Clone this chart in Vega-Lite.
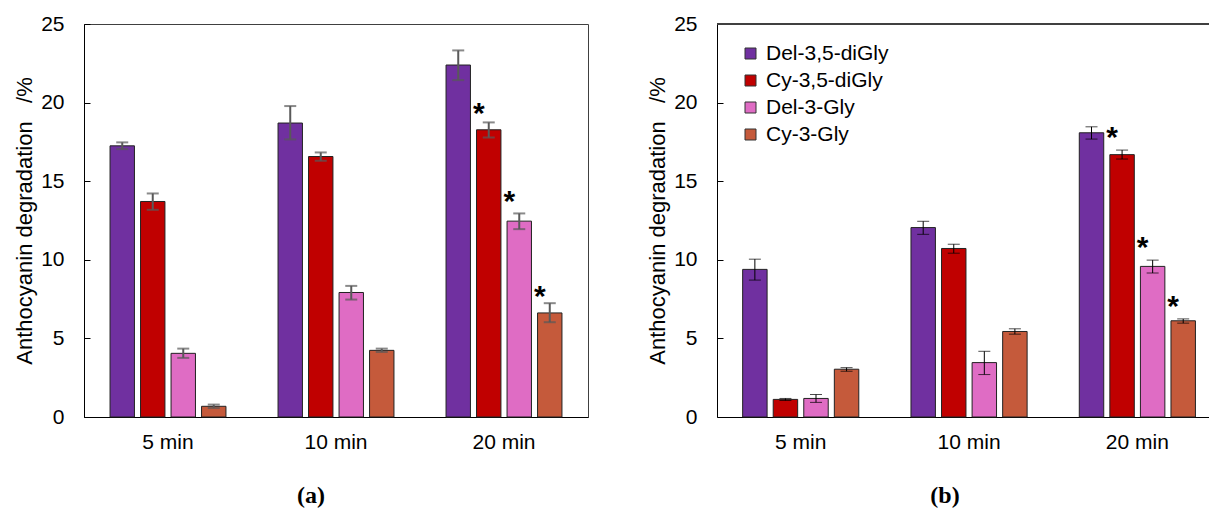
{
  "$schema": "https://vega.github.io/schema/vega-lite/v6.json",
  "padding": {"left": 13, "top": 12, "right": 0, "bottom": 5},
  "background": "white",
  "datasets": {
    "a": [
      {"time": "5 min", "compound": "Del-3,5-diGly", "value": 17.25, "lo": 17.04, "hi": 17.47, "star": null},
      {"time": "5 min", "compound": "Cy-3,5-diGly", "value": 13.71, "lo": 13.18, "hi": 14.22, "star": null},
      {"time": "5 min", "compound": "Del-3-Gly", "value": 4.05, "lo": 3.76, "hi": 4.35, "star": null},
      {"time": "5 min", "compound": "Cy-3-Gly", "value": 0.68, "lo": 0.57, "hi": 0.79, "star": null},
      {"time": "10 min", "compound": "Del-3,5-diGly", "value": 18.7, "lo": 17.66, "hi": 19.78, "star": null},
      {"time": "10 min", "compound": "Cy-3,5-diGly", "value": 16.57, "lo": 16.3, "hi": 16.83, "star": null},
      {"time": "10 min", "compound": "Del-3-Gly", "value": 7.92, "lo": 7.47, "hi": 8.34, "star": null},
      {"time": "10 min", "compound": "Cy-3-Gly", "value": 4.24, "lo": 4.14, "hi": 4.35, "star": null},
      {"time": "20 min", "compound": "Del-3,5-diGly", "value": 22.39, "lo": 21.43, "hi": 23.32, "star": null},
      {"time": "20 min", "compound": "Cy-3,5-diGly", "value": 18.27, "lo": 17.78, "hi": 18.74, "star": 19.53},
      {"time": "20 min", "compound": "Del-3-Gly", "value": 12.46, "lo": 11.95, "hi": 12.95, "star": 13.95},
      {"time": "20 min", "compound": "Cy-3-Gly", "value": 6.62, "lo": 6.03, "hi": 7.24, "star": 7.91}
    ],
    "b": [
      {"time": "5 min", "compound": "Del-3,5-diGly", "value": 9.39, "lo": 8.71, "hi": 10.04, "star": null},
      {"time": "5 min", "compound": "Cy-3,5-diGly", "value": 1.12, "lo": 1.05, "hi": 1.18, "star": null},
      {"time": "5 min", "compound": "Del-3-Gly", "value": 1.18, "lo": 0.93, "hi": 1.43, "star": null},
      {"time": "5 min", "compound": "Cy-3-Gly", "value": 3.04, "lo": 2.91, "hi": 3.14, "star": null},
      {"time": "10 min", "compound": "Del-3,5-diGly", "value": 12.05, "lo": 11.62, "hi": 12.45, "star": null},
      {"time": "10 min", "compound": "Cy-3,5-diGly", "value": 10.72, "lo": 10.42, "hi": 10.99, "star": null},
      {"time": "10 min", "compound": "Del-3-Gly", "value": 3.46, "lo": 2.7, "hi": 4.18, "star": null},
      {"time": "10 min", "compound": "Cy-3-Gly", "value": 5.44, "lo": 5.27, "hi": 5.61, "star": null},
      {"time": "20 min", "compound": "Del-3,5-diGly", "value": 18.08, "lo": 17.68, "hi": 18.46, "star": null},
      {"time": "20 min", "compound": "Cy-3,5-diGly", "value": 16.69, "lo": 16.41, "hi": 16.98, "star": 17.98},
      {"time": "20 min", "compound": "Del-3-Gly", "value": 9.58, "lo": 9.16, "hi": 9.98, "star": 11.0},
      {"time": "20 min", "compound": "Cy-3-Gly", "value": 6.12, "lo": 5.97, "hi": 6.24, "star": 7.28}
    ]
  },
  "hconcat": [
    {
      "width": 504,
      "height": 393,
      "data": {"name": "a"},
      "title": {"text": "(a)", "dx": -25},
      "encoding": {
        "x": {"field": "time", "type": "nominal", "sort": ["5 min", "10 min", "20 min"], "title": null,
              "scale": {"paddingInner": 0.31, "paddingOuter": 0.155}},
        "xOffset": {"field": "compound", "type": "nominal", "sort": ["Del-3,5-diGly", "Cy-3,5-diGly", "Del-3-Gly", "Cy-3-Gly"],
                    "scale": {"paddingInner": 0.2, "paddingOuter": 0}}
      },
      "layer": [
        {
          "mark": {"type": "bar", "stroke": "#222222", "strokeWidth": 1},
          "encoding": {
            "y": {"field": "value", "type": "quantitative", "title": "Anthocyanin degradation\u00a0\u00a0\u00a0/%", "scale": {"domain": [0, 25], "nice": false},
                  "axis": {"values": [0, 2.5, 5, 7.5, 10, 12.5, 15, 17.5, 20, 22.5, 25], "labelExpr": "datum.value % 5 == 0 ? datum.label : ''",
                           "grid": true, "gridColor": "#000000", "gridWidth": 1, "gridOpacity": 1, "gridDash": [6, 3000]}},
            "color": {"field": "compound", "type": "nominal", "sort": ["Del-3,5-diGly", "Cy-3,5-diGly", "Del-3-Gly", "Cy-3-Gly"],
                      "scale": {"domain": ["Del-3,5-diGly", "Cy-3,5-diGly", "Del-3-Gly", "Cy-3-Gly"], "range": ["#7030A0", "#C00000", "#DF6CC4", "#C55A3B"]},
                      "legend": null}
          }
        },
        {
          "mark": {"type": "rule", "color": "#595959", "strokeWidth": 2},
          "encoding": {"y": {"field": "lo", "type": "quantitative", "title": "Anthocyanin degradation\u00a0\u00a0\u00a0/%", "scale": {"domain": [0, 25], "nice": false}}, "y2": {"field": "hi"}}
        },
        {
          "mark": {"type": "tick", "color": "#595959", "thickness": 2, "size": 12},
          "encoding": {"y": {"field": "lo", "type": "quantitative", "title": "Anthocyanin degradation\u00a0\u00a0\u00a0/%", "scale": {"domain": [0, 25], "nice": false}}}
        },
        {
          "mark": {"type": "tick", "color": "#595959", "thickness": 2, "size": 12},
          "encoding": {"y": {"field": "hi", "type": "quantitative", "title": "Anthocyanin degradation\u00a0\u00a0\u00a0/%", "scale": {"domain": [0, 25], "nice": false}}}
        },
        {
          "transform": [{"filter": "datum.star != null"}],
          "mark": {"type": "text", "text": "*", "font": "Liberation Sans", "fontSize": 30, "fontWeight": "bold", "color": "#000", "baseline": "middle", "align": "center", "dx": -10, "dy": 4},
          "encoding": {"y": {"field": "star", "type": "quantitative", "title": "Anthocyanin degradation\u00a0\u00a0\u00a0/%", "scale": {"domain": [0, 25], "nice": false}}}
        }
      ]
    },
    {
      "width": 492,
      "height": 393,
      "data": {"name": "b"},
      "title": {"text": "(b)", "dx": -18},
      "view": {"stroke": null},
      "layer": [
        {
          "mark": {"type": "rule", "color": "#404040", "strokeWidth": 1},
          "encoding": {"y": {"datum": 25, "type": "quantitative", "scale": {"domain": [0, 25], "nice": false}, "title": "Anthocyanin degradation\u00a0\u00a0\u00a0/%",
                             "axis": {"values": [0, 2.5, 5, 7.5, 10, 12.5, 15, 17.5, 20, 22.5, 25], "labelExpr": "datum.value % 5 == 0 ? datum.label : ''",
                                      "grid": true, "gridColor": "#000000", "gridWidth": 1, "gridOpacity": 1, "gridDash": [6, 3000]}}}
        },
        {
          "encoding": {
            "x": {"field": "time", "type": "nominal", "sort": ["5 min", "10 min", "20 min"], "title": null,
                  "scale": {"paddingInner": 0.31, "paddingOuter": 0.1165, "align": 0.654}},
            "xOffset": {"field": "compound", "type": "nominal", "sort": ["Del-3,5-diGly", "Cy-3,5-diGly", "Del-3-Gly", "Cy-3-Gly"],
                        "scale": {"paddingInner": 0.2, "paddingOuter": 0}}
          },
          "layer": [
            {
              "mark": {"type": "bar", "stroke": "#222222", "strokeWidth": 1},
              "encoding": {
                "y": {"field": "value", "type": "quantitative", "title": "Anthocyanin degradation\u00a0\u00a0\u00a0/%", "scale": {"domain": [0, 25], "nice": false}},
                "color": {"field": "compound", "type": "nominal", "sort": ["Del-3,5-diGly", "Cy-3,5-diGly", "Del-3-Gly", "Cy-3-Gly"],
                          "scale": {"domain": ["Del-3,5-diGly", "Cy-3,5-diGly", "Del-3-Gly", "Cy-3-Gly"], "range": ["#7030A0", "#C00000", "#DF6CC4", "#C55A3B"]},
                          "legend": {"orient": "none", "legendX": 23, "legendY": 19, "title": null, "symbolType": "square", "symbolSize": 121,
                                     "symbolStrokeColor": "#333333", "symbolStrokeWidth": 1, "labelFont": "Liberation Sans", "labelFontSize": 21,
                                     "labelColor": "#000", "rowPadding": 5, "labelOffset": 5}}
              }
            },
            {
              "mark": {"type": "rule", "color": "#000000", "strokeWidth": 1},
              "encoding": {"y": {"field": "lo", "type": "quantitative", "title": "Anthocyanin degradation\u00a0\u00a0\u00a0/%", "scale": {"domain": [0, 25], "nice": false}}, "y2": {"field": "hi"}}
            },
            {
              "mark": {"type": "tick", "color": "#000000", "thickness": 1, "size": 12},
              "encoding": {"y": {"field": "lo", "type": "quantitative", "title": "Anthocyanin degradation\u00a0\u00a0\u00a0/%", "scale": {"domain": [0, 25], "nice": false}}}
            },
            {
              "mark": {"type": "tick", "color": "#000000", "thickness": 1, "size": 12},
              "encoding": {"y": {"field": "hi", "type": "quantitative", "title": "Anthocyanin degradation\u00a0\u00a0\u00a0/%", "scale": {"domain": [0, 25], "nice": false}}}
            },
            {
              "transform": [{"filter": "datum.star != null"}],
              "mark": {"type": "text", "text": "*", "font": "Liberation Sans", "fontSize": 30, "fontWeight": "bold", "color": "#000", "baseline": "middle", "align": "center", "dx": -10, "dy": 4},
              "encoding": {"y": {"field": "star", "type": "quantitative", "title": "Anthocyanin degradation\u00a0\u00a0\u00a0/%", "scale": {"domain": [0, 25], "nice": false}}}
            }
          ]
        }
      ]
    }
  ],
  "spacing": 129,
  "bounds": "flush",
  "resolve": {"scale": {"x": "independent", "xOffset": "independent"}, "legend": {"color": "independent"}},
  "config": {
    "font": "Liberation Sans",
    "view": {"stroke": "#404040", "strokeWidth": 1},
    "axis": {"labelFont": "Liberation Sans", "labelFontSize": 21, "labelColor": "#000000", "titleFont": "Liberation Sans", "titleFontSize": 22,
             "titleFontWeight": "normal", "titleColor": "#000000", "domainColor": "#000000", "domainWidth": 1, "tickColor": "#000000"},
    "axisX": {"ticks": false, "grid": false, "labelAngle": 0, "labelPadding": 14},
    "axisY": {"ticks": false, "labelOverlap": false, "labelFlush": false, "labelPadding": 20, "titlePadding": 4},
    "title": {"font": "Liberation Serif", "fontSize": 24, "fontWeight": "bold", "color": "#000000", "orient": "bottom", "anchor": "middle", "offset": 32}
  }
}
